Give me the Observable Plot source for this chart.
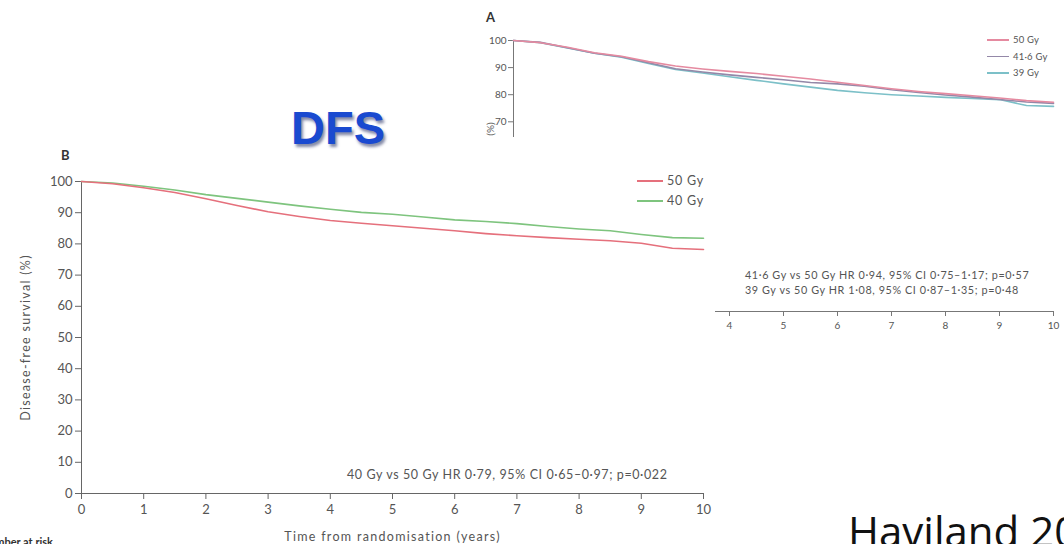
<!DOCTYPE html>
<html><head><meta charset="utf-8">
<script src="https://cdn.jsdelivr.net/npm/d3@7"></script>
<script src="https://cdn.jsdelivr.net/npm/@observablehq/plot@0.6"></script>
<style>
html,body{margin:0;padding:0;background:#fff;}
body{width:1064px;height:544px;overflow:hidden;position:relative;font-family:Lato,"Liberation Sans",sans-serif;}
.abs{position:absolute;white-space:nowrap;line-height:1;}
#panelA{position:absolute;left:440px;top:0;}
#panelB{position:absolute;left:0;top:137px;width:715px;height:407px;background:#fff;}
.leg{position:absolute;height:1.6px;}
</style></head><body>
<div id="panelA"></div>
<div class="abs" style="left:486px;top:11px;font-weight:bold;font-size:13px;color:#333">A</div>
<div class="abs" style="left:745px;top:270px;font-size:10.8px;letter-spacing:0.6px;color:#555">41·6 Gy vs 50 Gy HR 0·94, 95% CI 0·75–1·17; p=0·57</div>
<div class="abs" style="left:745px;top:285px;font-size:10.8px;letter-spacing:0.6px;color:#555">39 Gy vs 50 Gy HR 1·08, 95% CI 0·87–1·35; p=0·48</div>
<div id="legA"></div>
<div id="panelB"></div>
<div class="abs" style="left:61px;top:149px;font-weight:bold;font-size:13px;color:#333">B</div>
<div class="abs" style="left:347px;top:469px;font-size:12.5px;letter-spacing:0.6px;color:#555">40 Gy vs 50 Gy HR 0·79, 95% CI 0·65–0·97; p=0·022</div>
<div id="legB"></div>
<div class="abs" style="left:291px;top:104px;font-family:'Liberation Sans',Arial,sans-serif;font-weight:bold;font-size:47px;color:#1a4ad0;text-shadow:2px 3px 3px rgba(50,60,110,0.6)">DFS</div>
<div class="abs" style="left:848px;top:510px;font-family:'Open Sans',sans-serif;font-size:42px;color:#111">Haviland 2013</div>
<div class="abs" style="right:1011px;top:536px;font-weight:bold;font-size:11px;color:#333">Number at risk</div>
<script>
// ---- Panel B: disease-free survival, 50 Gy vs 40 Gy ----
const yearsB = [0,0.5,1,1.5,2,2.5,3,3.5,4,4.5,5,5.5,6,6.5,7,7.5,8,8.5,9,9.5,10];
const dfsB50 = [100,99.3,98,96.5,94.5,92.3,90.3,88.8,87.5,86.6,85.8,85,84.2,83.3,82.6,82,81.5,81,80.2,78.6,78.2];
const dfsB40 = [100,99.5,98.5,97.3,95.8,94.6,93.4,92.2,91.1,90.1,89.5,88.6,87.7,87.2,86.5,85.6,84.8,84.2,83,82,81.8];
const seriesB = ["50 Gy","40 Gy"];
const colorsB = ["#e5707c","#7ec47e"];

// ---- Panel A: 50 Gy vs 41·6 Gy vs 39 Gy ----
const yearsA = [0,0.5,1,1.5,2,2.5,3,3.5,4,4.5,5,5.5,6,6.5,7,7.5,8,8.5,9,9.5,10];
const dfsA50 = [100,99.2,97.5,95.5,94.2,92.2,90.6,89.5,88.6,87.8,86.8,85.8,84.6,83.4,82.2,81.2,80.4,79.6,78.8,77.8,77.2];
const dfsA416 = [100,99.3,97.3,95.3,94,91.8,89.6,88.4,87.3,86.4,85.5,84.5,84,83.1,81.8,80.8,79.9,79.1,78.2,77.3,76.8];
const dfsA39 = [100,99.2,97.2,95.3,93.8,91.5,89.3,88,86.6,85.3,84,82.8,81.6,80.7,80,79.5,79,78.6,78.2,76,75.7];
const seriesA = ["50 Gy","41·6 Gy","39 Gy"];
const colorsA = ["#e58aa0","#9488a8","#7cc0c8"];

const xTicks = [0,1,2,3,4,5,6,7,8,9,10];
const yTicks = [0,10,20,30,40,50,60,70,80,90,100];
const yLabel = "Disease-free survival (%)";
const xLabel = "Time from randomisation (years)";

function rows(years, lists, names){
  const out = [];
  lists.forEach((vals,i)=>vals.forEach((v,j)=>out.push({series:names[i], year:years[j], value:v})));
  return out;
}
const rowsA = rows(yearsA,[dfsA39,dfsA416,dfsA50],[seriesA[2],seriesA[1],seriesA[0]]);
const rowsB = rows(yearsB,[dfsB40,dfsB50],[seriesB[1],seriesB[0]]);

const plotA = Plot.plot({
  width:624, height:340,
  marginLeft:73, marginRight:11, marginTop:40, marginBottom:29,
  x:{domain:[0,10]}, y:{domain:[0,100]},
  color:{domain:seriesA, range:colorsA},
  style:{fontFamily:"Lato, 'Liberation Sans', sans-serif", fontSize:"10px", color:"#555", background:"transparent"},
  marks:[
    Plot.ruleX([0],{stroke:"#777"}),
    Plot.ruleY([0],{stroke:"#777"}),
    Plot.axisX({ticks:xTicks, tickSize:5, tickPadding:5, label:null, stroke:"#777"}),
    Plot.axisY({ticks:yTicks, tickSize:5, tickPadding:2, stroke:"#777", label:yLabel, labelAnchor:"center", labelArrow:false, labelOffset:27}),
    Plot.line(rowsA,{x:"year", y:"value", stroke:"series", strokeWidth:1.6})
  ]
});
document.getElementById("panelA").appendChild(plotA);

const plotB = Plot.plot({
  width:715, height:407,
  marginLeft:81, marginRight:12, marginTop:44, marginBottom:51,
  x:{domain:[0,10]}, y:{domain:[0,100]},
  color:{domain:seriesB, range:colorsB},
  style:{fontFamily:"Lato, 'Liberation Sans', sans-serif", fontSize:"13px", color:"#555", background:"transparent"},
  marks:[
    Plot.ruleX([0],{stroke:"#666"}),
    Plot.ruleY([0],{stroke:"#666"}),
    Plot.axisX({ticks:xTicks, tickSize:6, tickPadding:5, stroke:"#666", label:xLabel, labelAnchor:"center", labelArrow:false, labelOffset:47}),
    Plot.axisY({ticks:yTicks, tickSize:6, tickPadding:3, stroke:"#666", label:yLabel, labelAnchor:"center", labelArrow:false, labelOffset:60}),
    Plot.line(rowsB,{x:"year", y:"value", stroke:"series", strokeWidth:1.6})
  ]
});
document.getElementById("panelB").appendChild(plotB);
// widen axis titles of panel B to match the reference lettering
plotB.querySelectorAll('g[aria-label="x-axis label"] text').forEach(t=>{t.style.fontSize="12.5px";t.style.letterSpacing="1.3px";});
plotB.querySelectorAll('g[aria-label="y-axis label"] text').forEach(t=>{t.style.fontSize="12.5px";t.style.letterSpacing="1.3px";});

// legends (HTML)
function legend(el, names, colors, x, y0, dy, len, fs, ls){
  names.forEach((n,i)=>{
    const y = y0 + i*dy;
    const l = document.createElement("div");
    l.className="leg"; l.style.left=x+"px"; l.style.top=(y-0.8)+"px"; l.style.width=len+"px"; l.style.background=colors[i];
    el.appendChild(l);
    const t = document.createElement("div");
    t.className="abs"; t.textContent=n; t.style.left=(x+len+4)+"px"; t.style.top=(y-fs/2)+"px"; t.style.fontSize=fs+"px"; t.style.letterSpacing=ls+"px"; t.style.color="#555";
    el.appendChild(t);
  });
}
legend(document.getElementById("legA"), seriesA, colorsA, 987, 40, 16.5, 22, 9.5, 0.2);
legend(document.getElementById("legB"), seriesB, colorsB, 637, 181, 20, 26, 12.5, 0.8);
</script>
</body></html>
